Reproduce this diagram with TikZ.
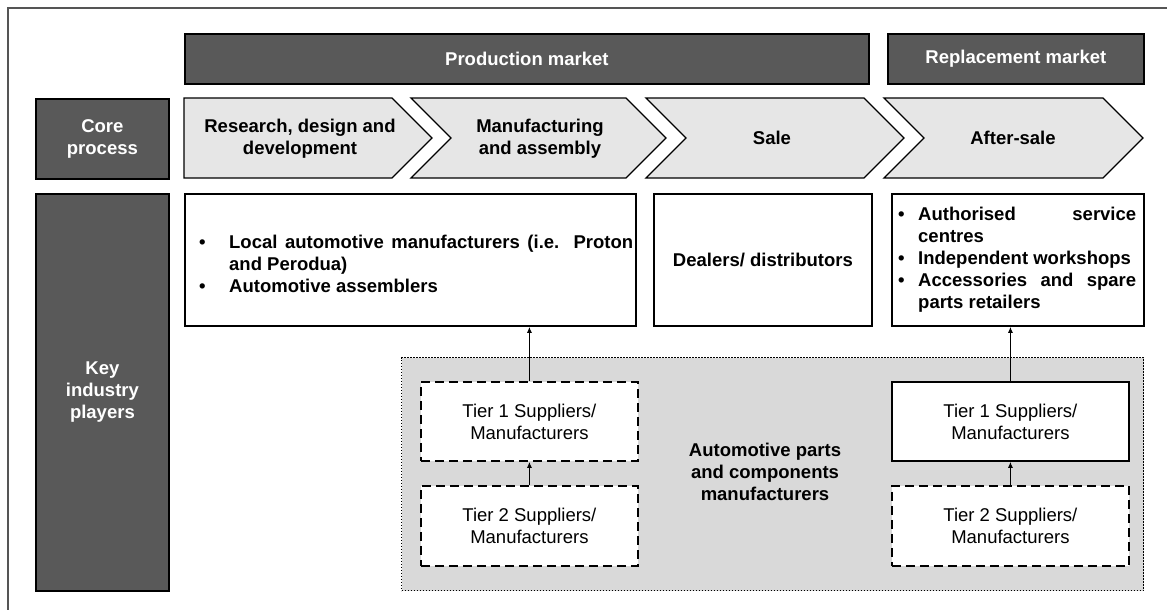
\documentclass[tikz,border=0pt]{standalone}
\usepackage{fontspec}
\setmainfont{Liberation Sans}
\usepackage{xcolor}
\usetikzlibrary{arrows.meta,positioning}
\definecolor{darkfill}{RGB}{89,89,89}
\definecolor{chevfill}{RGB}{230,230,230}
\definecolor{zonefill}{RGB}{217,217,217}
\definecolor{framegray}{RGB}{85,85,85}
\newcommand{\listbullet}[1]{\makebox[#1][l]{\textbullet}}
\newcommand{\fullline}[2]{\makebox[#1][s]{#2}}
\tikzset{
	headbox/.style={draw=black, line width=1.8pt, fill=darkfill, text=white, font=\bfseries, align=center, inner sep=0pt, anchor=north west},
	chevron/.style={draw=black, line width=1.3pt, fill=chevfill},
	chevtext/.style={font=\bfseries, align=center},
	playerbox/.style={draw=black, line width=1.8pt, fill=white, inner sep=0pt, anchor=north west, align=center},
	bulletlist/.style={font=\bfseries, align=left, inner sep=0pt, anchor=west},
	zone/.style={draw=black, line width=1.4pt, dash pattern=on 1.4pt off 1.6pt, fill=zonefill, inner sep=0pt, anchor=north west},
	tierbox/.style={draw=black, line width=1.8pt, fill=white, inner sep=0pt, anchor=north west, align=center},
	tierdash/.style={dash pattern=on 9pt off 5pt},
	supply/.style={-{Latex[length=6pt,width=5pt]}, line width=1.1pt}
}
\begin{document}
\fontsize{18.5}{22}\selectfont
\begin{tikzpicture}[x=1pt,y=-1pt]
	\useasboundingbox (0,0) rectangle (1167,610);
	\draw[framegray, line width=1.5pt] (8,610) -- (8,8) -- (1167,8);

	\node[headbox, minimum width=684pt, minimum height=50pt] (prodmkt) at (184,33) {Production market};
	\node[headbox, minimum width=256pt, minimum height=50pt] (replmkt) at (887,33) {Replacement market};
	\node[headbox, minimum width=133pt, minimum height=80pt] (coreproc) at (35,98) {Core\\process};
	\node[headbox, minimum width=133pt, minimum height=397pt] (keyplayers) at (35,193) {Key\\industry\\players};

	\draw[chevron] (184,98) -- (392,98) -- (432,138) -- (392,178) -- (184,178) -- cycle;
	\draw[chevron] (411,98) -- (626,98) -- (666,138) -- (626,178) -- (411,178) -- (451,138) -- cycle;
	\draw[chevron] (646,98) -- (864,98) -- (904,138) -- (864,178) -- (646,178) -- (686,138) -- cycle;
	\draw[chevron] (884,98) -- (1103,98) -- (1143,138) -- (1103,178) -- (884,178) -- (924,138) -- cycle;
	\node[chevtext] (research) at (300,139) {Research, design and\\development};
	\node[chevtext] (manufacturing) at (540,139) {Manufacturing\\and assembly};
	\node[chevtext] (sale) at (772,138) {Sale};
	\node[chevtext] (aftersale) at (1013,138) {After-sale};

	\node[playerbox, minimum width=451pt, minimum height=132pt] (manuf) at (184,193) {};
	\node[bulletlist] (manuflist) at ([xshift=15pt,yshift=-4pt]manuf.west)
		{\listbullet{30pt}\fullline{404pt}{Local automotive manufacturers (i.e. Proton}\\
		\hspace*{30pt}and Perodua)\\
		\listbullet{30pt}Automotive assemblers};
	\node[playerbox, font=\bfseries, minimum width=218pt, minimum height=132pt] (dealers) at (653,193) {Dealers/ distributors};
	\node[playerbox, minimum width=252pt, minimum height=132pt] (after) at (891,193) {};
	\node[bulletlist] (afterlist) at ([xshift=7pt]after.west)
		{\listbullet{20pt}\fullline{218pt}{Authorised service}\\
		\hspace*{20pt}centres\\
		\listbullet{20pt}Independent workshops\\
		\listbullet{20pt}\fullline{218pt}{Accessories and spare}\\
		\hspace*{20pt}parts retailers};

	\node[zone, minimum width=742pt, minimum height=233pt] (partszone) at (401,357) {};
	\node[font=\bfseries, align=center] (partslabel) at (765,472) {Automotive parts\\and components\\manufacturers};

	\node[tierbox, tierdash, minimum width=217pt, minimum height=79pt] (tier1L) at (420,381) {Tier 1 Suppliers/\\Manufacturers};
	\node[tierbox, tierdash, minimum width=217pt, minimum height=80pt] (tier2L) at (420,485) {Tier 2 Suppliers/\\Manufacturers};
	\node[tierbox, minimum width=237pt, minimum height=79pt] (tier1R) at (891,381) {Tier 1 Suppliers/\\Manufacturers};
	\node[tierbox, tierdash, minimum width=237pt, minimum height=80pt] (tier2R) at (891,485) {Tier 2 Suppliers/\\Manufacturers};

	\draw[supply] (tier1L.north) -- (tier1L.north |- manuf.south);
	\draw[supply] (tier2L.north) -- (tier1L.south);
	\draw[supply] (tier1R.north) -- (tier1R.north |- after.south);
	\draw[supply] (tier2R.north) -- (tier1R.south);
\end{tikzpicture}
\end{document}
